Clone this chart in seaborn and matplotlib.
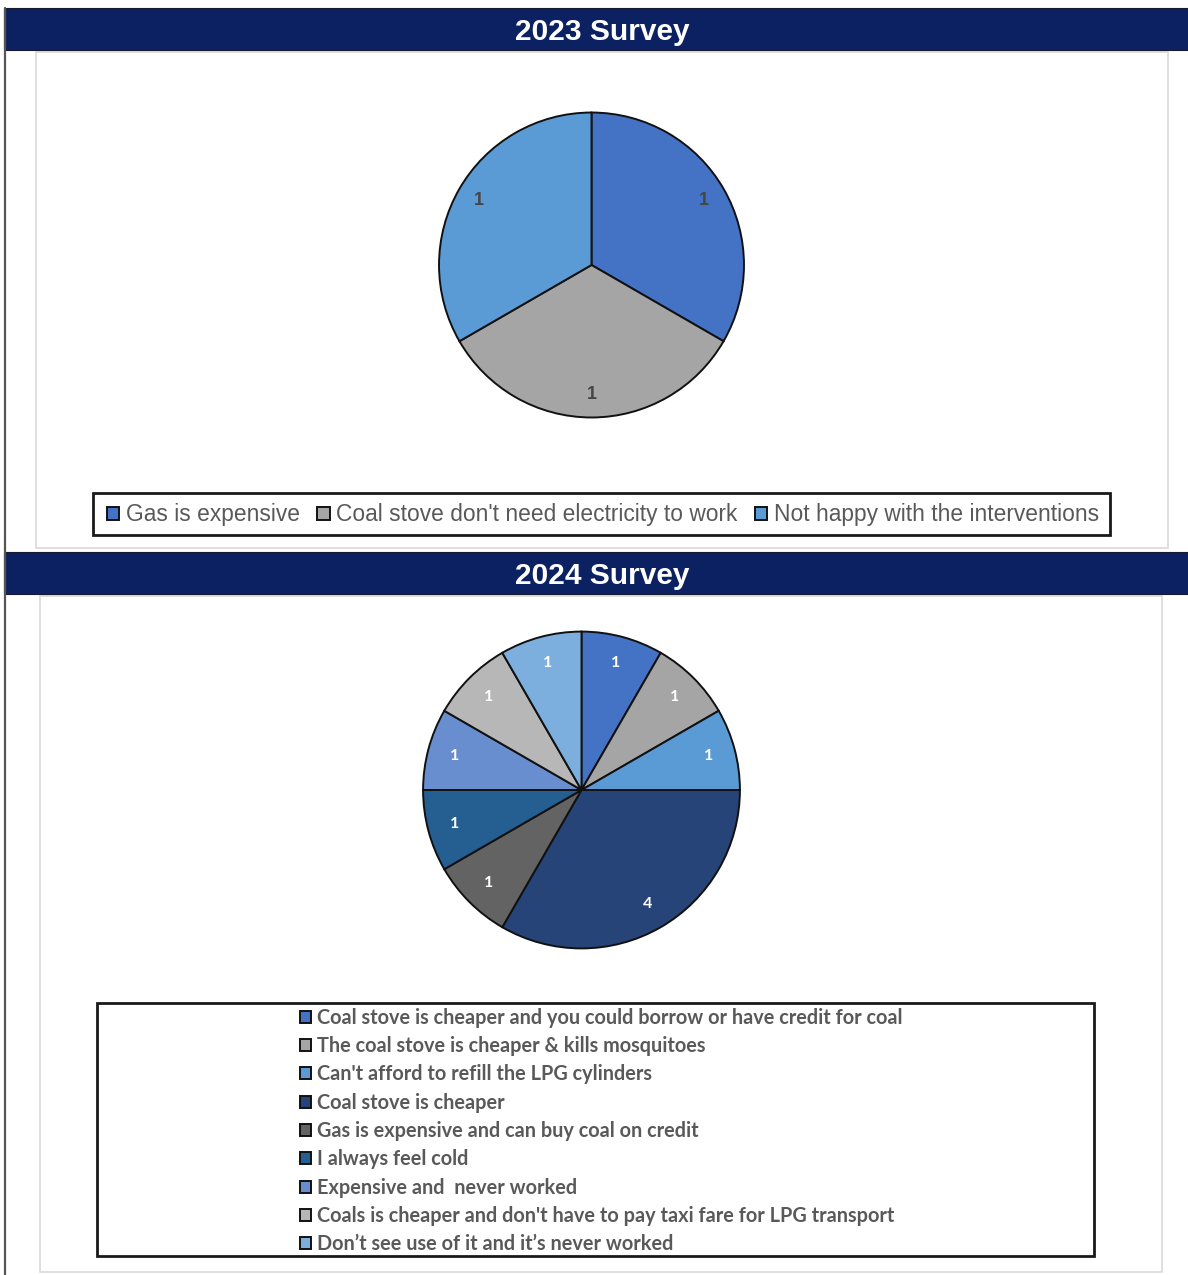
import matplotlib
matplotlib.use("Agg")
import matplotlib.pyplot as plt
from matplotlib.patches import Rectangle
import seaborn as sns

# ---- data ----
reasons_2023 = ["Gas is expensive", "Coal stove don't need electricity to work",
                "Not happy with the interventions"]
counts_2023 = [1, 1, 1]
colors_2023 = ["#4472C4", "#A5A5A5", "#5B9BD5"]

reasons_2024 = ["Coal stove is cheaper and you could borrow or have credit for coal",
                "The coal stove is cheaper & kills mosquitoes",
                "Can't afford to refill the LPG cylinders",
                "Coal stove is cheaper",
                "Gas is expensive and can buy coal on credit",
                "I always feel cold",
                "Expensive and  never worked",
                "Coals is cheaper and don't have to pay taxi fare for LPG transport",
                "Don\u2019t see use of it and it\u2019s never worked"]
counts_2024 = [1, 1, 1, 4, 1, 1, 1, 1, 1]
colors_2024 = ["#4472C4", "#A5A5A5", "#5B9BD5", "#264478", "#636363",
               "#255E91", "#698ED0", "#B7B7B7", "#7CAFDD"]

titles = ["2023 Survey", "2024 Survey"]

sns.set_theme(style="white")
plt.rcParams["font.family"] = ["Liberation Sans", "DejaVu Sans"]

W, H = 1188, 1275
fig = plt.figure(figsize=(W / 100, H / 100), dpi=100)
fig.patch.set_facecolor("white")


def rect(x0, y0, x1, y1, **kw):
    r = Rectangle((x0 / W, 1 - y1 / H), (x1 - x0) / W, (y1 - y0) / H,
                  transform=fig.transFigure, **kw)
    fig.add_artist(r)
    return r


def pie_axes(cx, cy, r):
    ax = fig.add_axes([(cx - r) / W, 1 - (cy + r) / H, 2 * r / W, 2 * r / H])
    ax.set_axis_off()
    return ax


NAVY = "#0B2161"
TEXT_GRAY = "#595959"

# panel outlines
rect(36, 52, 1168, 548, facecolor="none", edgecolor="#D9D9D9", lw=1.2)
rect(40, 596, 1162, 1272, facecolor="none", edgecolor="#D9D9D9", lw=1.2)

# header bars
for (y0, y1), title in zip([(8, 50), (552, 594)], titles):
    rect(4, y0, W + 2, y1, facecolor=NAVY, edgecolor="#1a1a2e", lw=0.8)
    fig.text(602 / W, 1 - ((y0 + y1) / 2 + 3) / H, title, color="white",
             fontsize=21.5, fontweight="bold", ha="center", va="center")

# left rule
fig.add_artist(plt.Line2D([5 / W, 5 / W], [0, 1 - 8 / H], transform=fig.transFigure,
                          color="#555555", lw=1.6))

# ---- 2023 pie ----
ax1 = pie_axes(591.5, 265, 154)
tot1 = sum(counts_2023)
w1, _, t1 = ax1.pie(counts_2023, colors=colors_2023, startangle=90, counterclock=False,
                    radius=1, autopct=lambda p: f"{p * tot1 / 100:.0f}", pctdistance=0.85,
                    wedgeprops=dict(edgecolor="#111111", linewidth=1.4),
                    textprops=dict(color="#454545", fontsize=13, fontweight="bold"))
ax1.set_xlim(-1.01, 1.01)
ax1.set_ylim(-1.01, 1.01)

rect(93, 493, 1110, 535, facecolor="none", edgecolor="#1a1a1a", lw=2.0)
fig.legend(w1, reasons_2023, loc="center", bbox_to_anchor=(603 / W, 1 - 515 / H),
           ncol=3, frameon=False, fontsize=16.4, handlelength=0.55, handleheight=0.55,
           handletextpad=0.3, columnspacing=0.75, labelcolor=TEXT_GRAY,
           borderpad=0.0)

# ---- 2024 pie ----
ax2 = pie_axes(581.5, 790, 160)
tot2 = sum(counts_2024)
w2, _, t2 = ax2.pie(counts_2024, colors=colors_2024, startangle=90, counterclock=False,
                    radius=1, autopct=lambda p: f"{p * tot2 / 100:.0f}", pctdistance=0.83,
                    wedgeprops=dict(edgecolor="#111111", linewidth=1.4),
                    textprops=dict(color="white", fontsize=11.5, fontweight="bold",
                                   family=["Lato", "DejaVu Sans"]))
ax2.set_xlim(-1.01, 1.01)
ax2.set_ylim(-1.01, 1.01)

rect(97, 1003, 1094, 1256, facecolor="none", edgecolor="#1a1a1a", lw=2.0)
fig.legend(w2, reasons_2024, loc="center", bbox_to_anchor=(601 / W, 1 - 1131 / H),
           ncol=1, frameon=False, handlelength=0.55, handleheight=0.55,
           handletextpad=0.3, labelspacing=0.42, labelcolor=TEXT_GRAY, borderpad=0.0,
           prop=dict(family=["Lato", "DejaVu Sans"], size=14.3, weight="bold"))

fig.savefig("out.png", dpi=100, facecolor="white")
